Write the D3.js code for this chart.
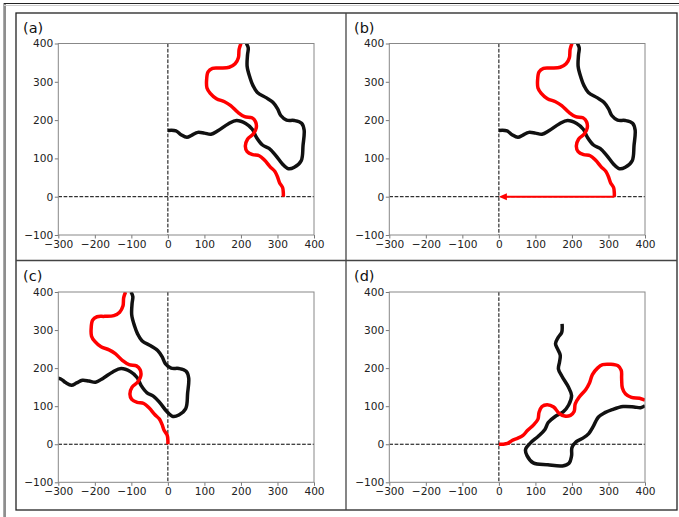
<!DOCTYPE html>
<html><head><meta charset="utf-8">
<script src="https://cdn.jsdelivr.net/npm/d3@7"></script>
<style>body{margin:0;background:#fff}svg{display:block}text{font-family:"DejaVu Sans",sans-serif}</style>
</head><body><svg id="c" width="679" height="517"></svg>
<script>
const xTicks = [-300,-200,-100,0,100,200,300,400];
const yTicks = [-100,0,100,200,300,400];
const panelLabels = ["(a)","(b)","(c)","(d)"];

const redA = [[200,400],[195,385],[193,363],[184,347],[168,338],[143,336],[122,335],[110,326],[106,305],[107,284],[116,270],[133,256],[155,248],[172,238],[192,220],[210,209],[230,206],[240,196],[242,180],[234,164],[218,150],[212,132],[217,118],[232,110],[250,107],[265,95],[280,78],[293,66],[300,52],[306,36],[314,24],[316,10],[316,0]];
const blackA = [[0,173],[22,172],[36,162],[52,155],[66,161],[82,168],[100,166],[118,163],[138,173],[165,190],[188,199],[213,191],[231,176],[243,154],[259,135],[277,126],[295,108],[313,86],[330,73],[346,77],[365,94],[370,134],[373,174],[366,192],[346,199],[325,200],[309,212],[300,230],[288,246],[270,258],[245,272],[233,290],[225,310],[217,340],[218,370],[220,388],[215,400]];

const redC = [[-116,400],[-121,385],[-123,363],[-132,347],[-148,338],[-173,336],[-194,335],[-206,326],[-210,305],[-209,284],[-200,270],[-183,256],[-161,248],[-144,238],[-124,220],[-106,209],[-86,206],[-76,196],[-74,180],[-82,164],[-98,150],[-104,132],[-99,118],[-84,110],[-66,107],[-51,95],[-36,78],[-23,66],[-16,52],[-10,36],[-2,24],[0,10],[0,0]];
const blackC = [[-316,173],[-294,172],[-280,162],[-264,155],[-250,161],[-234,168],[-216,166],[-198,163],[-178,173],[-151,190],[-128,199],[-103,191],[-85,176],[-73,154],[-57,135],[-39,126],[-21,108],[-3,86],[14,73],[30,77],[49,94],[54,134],[57,174],[50,192],[30,199],[9,200],[-7,212],[-16,230],[-28,246],[-46,258],[-71,272],[-83,290],[-91,310],[-99,340],[-98,370],[-96,388],[-101,400]];

const redD = [[400,116],[385,121],[363,123],[347,132],[338,148],[336,173],[335,194],[326,206],[305,210],[284,209],[270,200],[256,183],[248,161],[238,144],[220,124],[209,106],[206,86],[196,76],[180,74],[164,82],[150,98],[132,104],[118,99],[110,84],[107,66],[95,51],[78,36],[66,23],[52,16],[36,10],[24,2],[10,0],[0,0]];
const blackD = [[173,316],[172,294],[162,280],[155,264],[161,250],[168,234],[166,216],[163,198],[173,178],[190,151],[199,128],[191,103],[176,85],[154,73],[135,57],[126,39],[108,21],[86,3],[73,-14],[77,-30],[94,-49],[134,-54],[174,-57],[192,-50],[199,-30],[200,-9],[212,7],[230,16],[246,28],[258,46],[272,71],[290,83],[310,91],[340,99],[370,98],[388,96],[400,101]];

const arrowFrom = [316,0];
const arrowTo = [0,0];

const seriesByPanel = [
  {red: redA, black: blackA, arrow: false},
  {red: redA, black: blackA, arrow: true},
  {red: redC, black: blackC, arrow: false},
  {red: redD, black: blackD, arrow: false}
];

const layout = [
  {x0:58.3, x1:314, y0:43.5, y1:235, lx:23, ly:33},
  {x0:389.3, x1:645, y0:43.5, y1:235, lx:354, ly:33},
  {x0:58.3, x1:314, y0:292, y1:482.3, lx:23, ly:281},
  {x0:389.3, x1:645, y0:292, y1:482.3, lx:354, ly:281}
];

const svg = d3.select("#c");
// frame
svg.append("line").attr("x1",3.5).attr("x2",3.5).attr("y1",3).attr("y2",517).attr("stroke","#aaa").attr("stroke-width",1);
svg.append("line").attr("x1",5).attr("x2",5).attr("y1",3).attr("y2",517).attr("stroke","#444").attr("stroke-width",1.2);
svg.append("line").attr("x1",4).attr("x2",679).attr("y1",3.5).attr("y2",3.5).attr("stroke","#222").attr("stroke-width",1.2);
svg.append("line").attr("x1",4).attr("x2",679).attr("y1",5.5).attr("y2",5.5).attr("stroke","#ccc").attr("stroke-width",1);
svg.append("rect").attr("x",16).attr("y",13).attr("width",661).attr("height",497).attr("fill","none").attr("stroke","#222").attr("stroke-width",1.3);
svg.append("line").attr("x1",346).attr("x2",346).attr("y1",13).attr("y2",510).attr("stroke","#444").attr("stroke-width",1.3);
svg.append("line").attr("x1",16).attr("x2",677).attr("y1",260.5).attr("y2",260.5).attr("stroke","#444").attr("stroke-width",1.3);

const fmt = d3.format("d");

layout.forEach((L,i)=>{
  const x = d3.scaleLinear().domain([xTicks[0], xTicks[xTicks.length-1]]).range([L.x0, L.x1]);
  const y = d3.scaleLinear().domain([yTicks[0], yTicks[yTicks.length-1]]).range([L.y1, L.y0]);
  const g = svg.append("g");
  const cid = "clip"+i;
  svg.append("defs").append("clipPath").attr("id",cid).append("rect")
    .attr("x",L.x0).attr("y",L.y0).attr("width",L.x1-L.x0).attr("height",L.y1-L.y0);

  const ax = g.append("g").attr("transform",`translate(0,${L.y1})`)
    .call(d3.axisBottom(x).tickValues(xTicks).tickFormat(fmt).tickSize(3.5).tickPadding(1.5));
  const ay = g.append("g").attr("transform",`translate(${L.x0},0)`)
    .call(d3.axisLeft(y).tickValues(yTicks).tickFormat(fmt).tickSize(3.5).tickPadding(1.5));
  [ax,ay].forEach(a=>{
    a.select(".domain").remove();
    a.selectAll(".tick line").attr("stroke","#555").attr("stroke-width",0.8);
    a.selectAll("text").attr("fill","#222").style("font-size","10.6px").style("font-family","DejaVu Sans");
  });

  const plot = g.append("g").attr("clip-path",`url(#${cid})`);
  plot.append("line").attr("x1",L.x0).attr("x2",L.x1).attr("y1",y(0)).attr("y2",y(0))
    .attr("stroke","#000").attr("stroke-width",1).attr("stroke-dasharray","3.7,1.6");
  plot.append("line").attr("x1",x(0)).attr("x2",x(0)).attr("y1",L.y0).attr("y2",L.y1)
    .attr("stroke","#000").attr("stroke-width",1).attr("stroke-dasharray","3.7,1.6");

  const line = d3.line().x(d=>x(d[0])).y(d=>y(d[1])).curve(d3.curveCatmullRom.alpha(0.5));
  const S = seriesByPanel[i];
  plot.append("path").attr("d",line(S.black)).attr("fill","none").attr("stroke","#111")
    .attr("stroke-width",3.5).attr("stroke-linejoin","round").attr("stroke-linecap","butt");
  plot.append("path").attr("d",line(S.red)).attr("fill","none").attr("stroke","#f00")
    .attr("stroke-width",3.5).attr("stroke-linejoin","round").attr("stroke-linecap","butt");

  if (S.arrow) {
    const hx = x(arrowTo[0]), hy = y(arrowTo[1]);
    const headLen = 8, headW = 3.5;
    g.append("line").attr("x1",x(arrowFrom[0])).attr("y1",y(arrowFrom[1]))
      .attr("x2",hx+headLen-1).attr("y2",hy).attr("stroke","#f00").attr("stroke-width",2);
    g.append("path").attr("d",`M${hx},${hy}L${hx+headLen},${hy-headW}L${hx+headLen},${hy+headW}Z`).attr("fill","#f00");
  }

  g.append("rect").attr("x",L.x0).attr("y",L.y0).attr("width",L.x1-L.x0).attr("height",L.y1-L.y0)
    .attr("fill","none").attr("stroke","#888").attr("stroke-width",1);

  svg.append("text").attr("x",L.lx).attr("y",L.ly).text(panelLabels[i])
    .style("font-size","14.5px").attr("fill","#111");
});
</script></body></html>
